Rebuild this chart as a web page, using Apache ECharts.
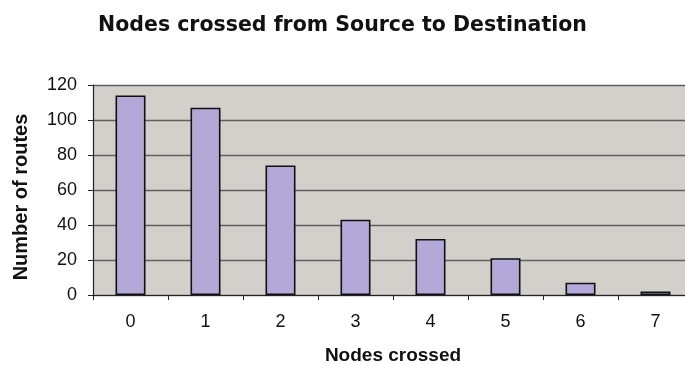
<!DOCTYPE html>
<html>
<head>
<meta charset="utf-8">
<script src="https://cdn.jsdelivr.net/npm/echarts@6/dist/echarts.min.js"></script>
<style>
  html, body { margin: 0; padding: 0; background: #ffffff; }
  #chart { width: 685px; height: 365px; }
</style>
</head>
<body>
<div id="chart"></div>
<script>
// Number of routes by how many intermediate nodes they cross
const categories = ['0', '1', '2', '3', '4', '5', '6', '7'];
const routeCounts = [114, 107, 74, 43, 32, 21, 7, 2];
const yTicks = { min: 0, max: 120, interval: 20 };

const titleText = 'Nodes crossed from Source to Destination';
const xName = 'Nodes crossed';
const yName = 'Number of routes';

const font = 'Arial, "Liberation Sans", Helvetica, sans-serif';
const wideFont = '"DejaVu Sans", Verdana, sans-serif';

const chart = echarts.init(document.getElementById('chart'), null, { renderer: 'canvas' });

chart.setOption({
  animation: false,
  backgroundColor: '#ffffff',
  title: {
    text: titleText,
    left: 'center',
    top: 10,
    textStyle: {
      fontFamily: wideFont,
      fontWeight: 'bold',
      fontSize: 20.5,
      color: '#111111'
    }
  },
  grid: {
    left: 93,
    top: 85,
    width: 600,
    height: 210,
    outerBoundsMode: 'none',
    containLabel: false,
    show: true,
    backgroundColor: '#d3d0cb',
    borderWidth: 0
  },
  xAxis: {
    type: 'category',
    data: categories,
    boundaryGap: true,
    name: xName,
    nameLocation: 'middle',
    nameGap: 51,
    nameTextStyle: {
      fontFamily: font,
      fontWeight: 'bold',
      fontSize: 19,
      color: '#111111'
    },
    axisLine: { show: true, lineStyle: { color: '#222222', width: 1.2 } },
    axisTick: { show: true, alignWithLabel: false, inside: false, length: 5, lineStyle: { color: '#222222' } },
    axisLabel: {
      margin: 18,
      fontFamily: font,
      fontSize: 18,
      color: '#111111'
    },
    splitLine: { show: false }
  },
  yAxis: {
    type: 'value',
    min: yTicks.min,
    max: yTicks.max,
    interval: yTicks.interval,
    name: yName,
    nameLocation: 'middle',
    nameGap: 62,
    nameRotate: 90,
    nameTextStyle: {
      fontFamily: font,
      fontWeight: 'bold',
      fontSize: 20,
      color: '#111111',
      padding: [0, 14, 0, 0]
    },
    axisLine: { show: true, lineStyle: { color: '#222222', width: 1.2 } },
    axisTick: { show: true, inside: false, length: 5, lineStyle: { color: '#222222' } },
    axisLabel: {
      margin: 16,
      fontFamily: font,
      fontSize: 18,
      color: '#111111'
    },
    splitLine: { show: true, lineStyle: { color: '#5f5f5f', width: 1.3 } }
  },
  series: [{
    type: 'bar',
    data: routeCounts,
    barWidth: '40%',
    itemStyle: {
      color: '#b3a9d8',
      borderColor: '#111111',
      borderWidth: 1.6
    }
  }]
});
</script>
</body>
</html>
